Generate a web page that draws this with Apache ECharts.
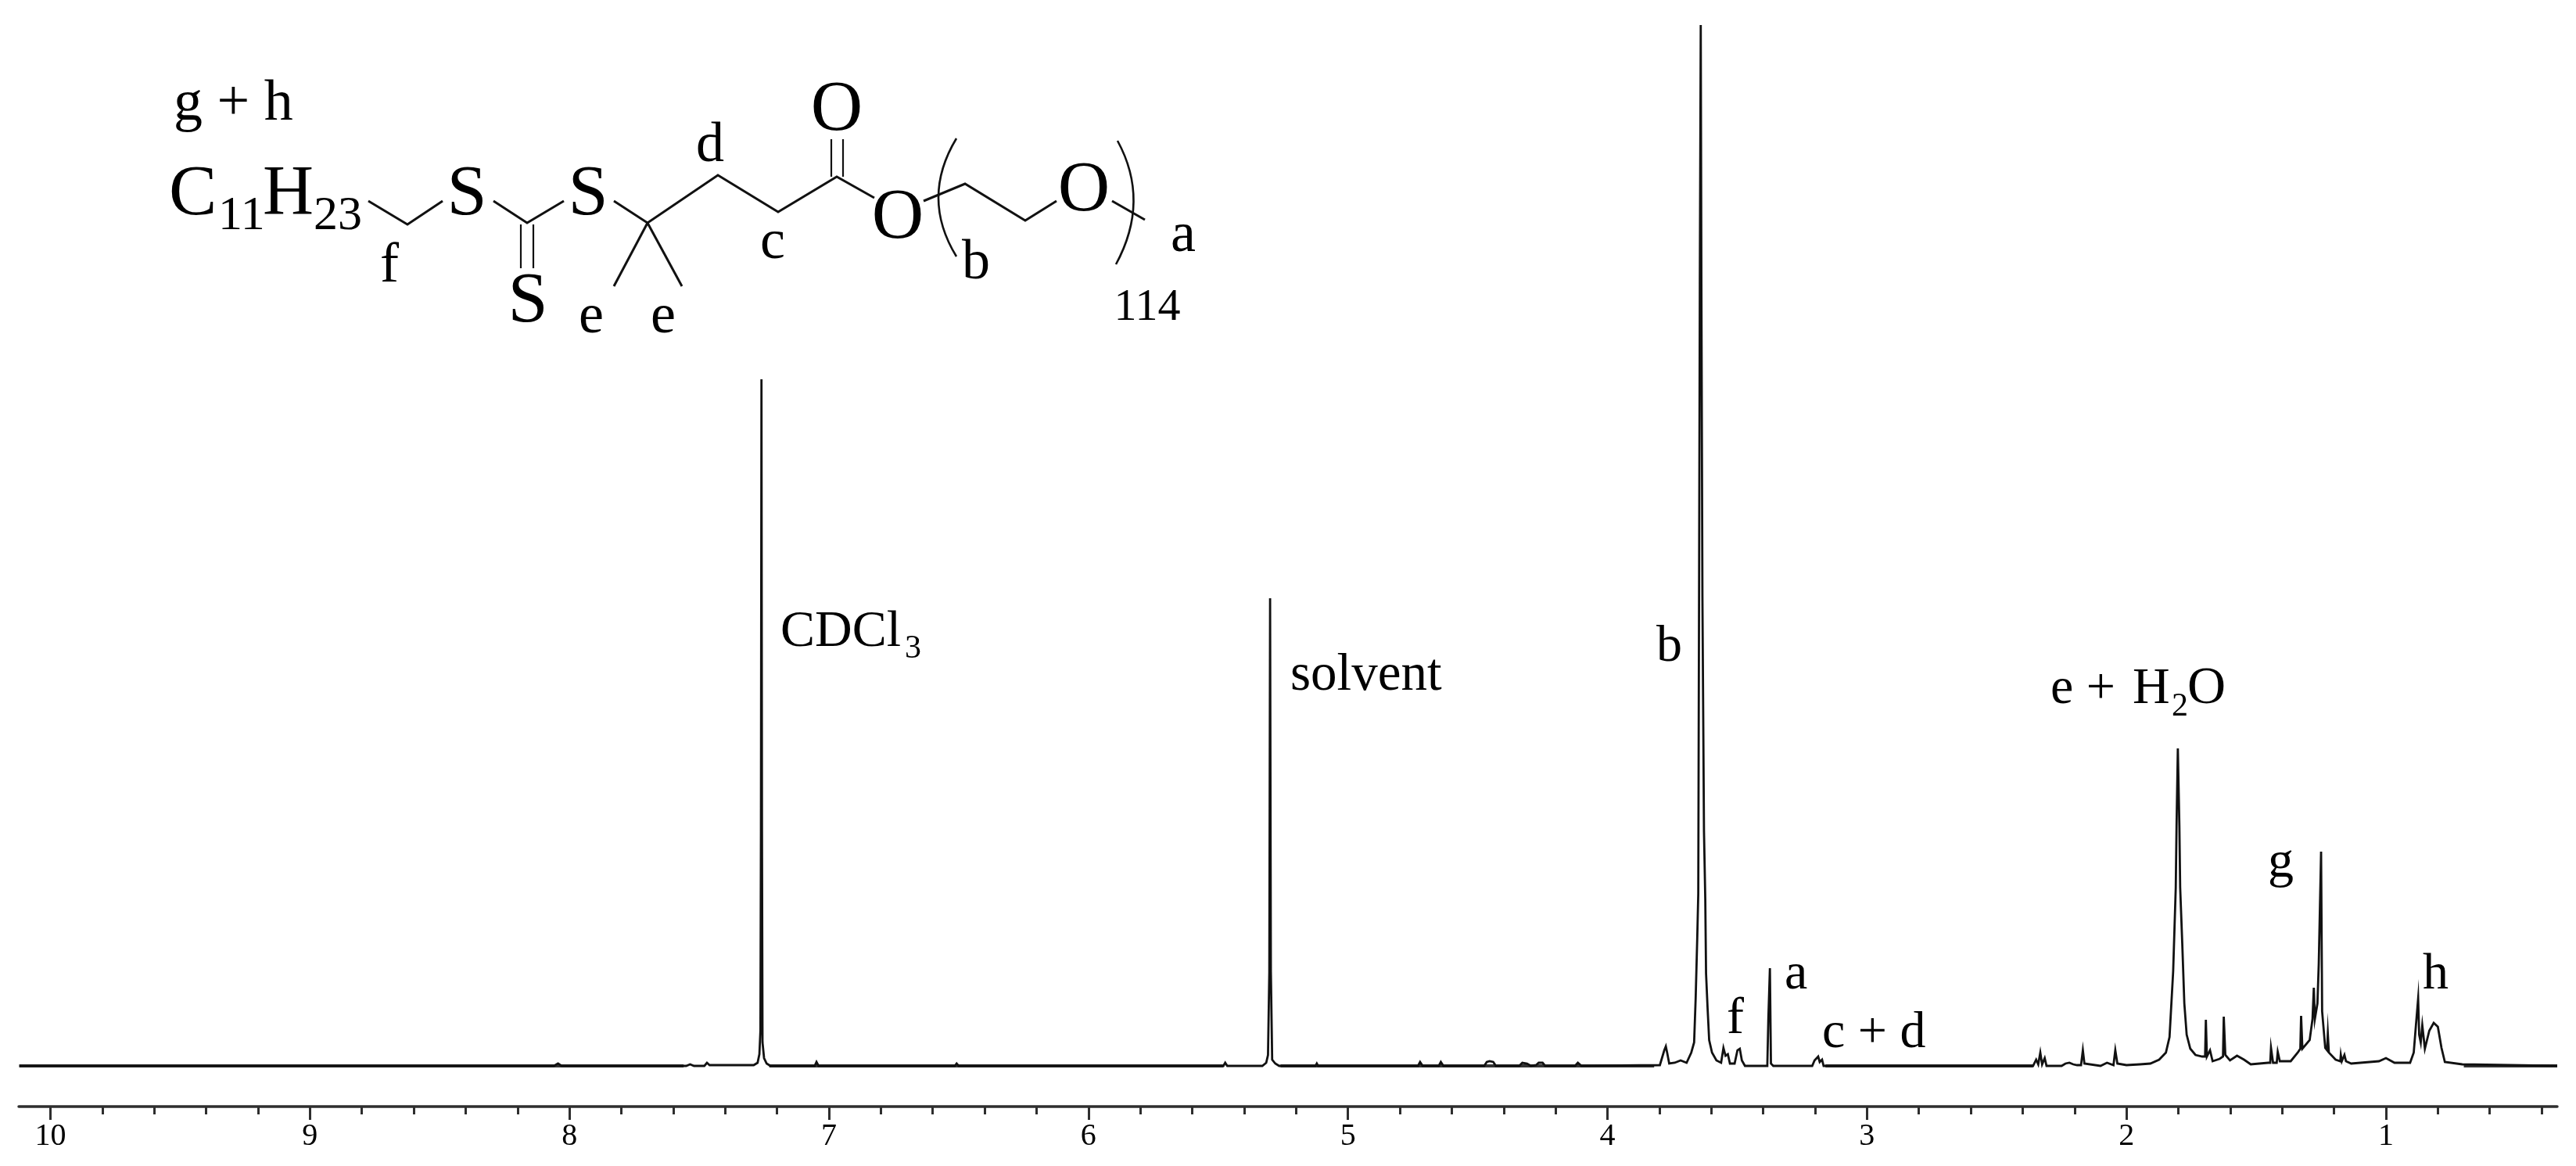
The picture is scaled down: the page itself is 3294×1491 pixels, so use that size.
<!DOCTYPE html>
<html lang="en">
<head>
    <meta charset="UTF-8">
    <title>1H NMR spectrum</title>
    <script src="https://cdn.jsdelivr.net/npm/echarts@6/dist/echarts.min.js"></script>
    <style>
        html, body { margin: 0; padding: 0; background: #fff; }
        #chart { width: 3294px; height: 1491px; }
    </style>
</head>
<body>
<div id="chart"></div>
<script>
    // chemical shift (ppm) from left to right
    const shifts = [
        10.12, 8.06, 8.044, 8.03, 7.55, 7.535, 7.52, 7.48, 7.47, 7.46, 7.36, 7.354, 7.34, 7.29,
        7.275, 7.268, 7.264, 7.262, 7.26, 7.258, 7.256, 7.25, 7.24, 7.225, 7.055, 7.048, 7.04,
        6.515, 6.508, 6.5, 5.48, 5.473, 5.465, 5.33, 5.315, 5.308, 5.303, 5.3, 5.297, 5.292, 5.28, 5.265,
        5.125, 5.12, 5.115, 4.73, 4.722, 4.712, 4.65, 4.642, 4.632, 4.475, 4.465, 4.454, 4.44, 4.43,
        4.34, 4.328, 4.31, 4.295, 4.275, 4.265, 4.25, 4.24, 4.125, 4.114, 4.1,
        3.798, 3.781, 3.775, 3.77, 3.762, 3.741, 3.718, 3.695, 3.677, 3.666, 3.66, 3.654,
        3.65, 3.647, 3.644, 3.6405, 3.638, 3.634, 3.628, 3.623, 3.62, 3.614, 3.608, 3.597, 3.58, 3.562,
        3.553, 3.545, 3.536, 3.528, 3.51, 3.499, 3.49, 3.482, 3.47, 3.384, 3.38, 3.374, 3.37, 3.361,
        3.211, 3.202, 3.197, 3.188, 3.182, 3.173, 3.167,
        2.36, 2.348, 2.34, 2.332, 2.325, 2.315, 2.308, 2.25, 2.235, 2.22, 2.205, 2.19, 2.175, 2.168, 2.162,
        2.1, 2.075, 2.05, 2.043, 2.035, 2.0, 1.948, 1.908, 1.874, 1.848, 1.834, 1.82, 1.81, 1.807,
        1.802, 1.796, 1.793, 1.785, 1.777, 1.768, 1.754, 1.734, 1.708, 1.697, 1.694, 1.69, 1.678, 1.668,
        1.641, 1.628, 1.625, 1.619, 1.601, 1.574, 1.547, 1.521, 1.454, 1.446, 1.443, 1.435, 1.421, 1.417, 1.409,
        1.367, 1.34, 1.33, 1.327, 1.322, 1.294, 1.283, 1.278, 1.274, 1.264, 1.259, 1.25, 1.246, 1.234,
        1.227, 1.224, 1.22, 1.194, 1.176, 1.174, 1.17, 1.16, 1.154, 1.134, 1.027, 1.0, 0.967, 0.907,
        0.893, 0.885, 0.882, 0.876, 0.872, 0.866, 0.86, 0.85, 0.833, 0.816, 0.8, 0.786, 0.773, 0.706, 0.34
    ];
    // signal height above the baseline, same order as shifts
    const intensities = [
        0, 0, 3, 0, 0, 2, 0, 0, 4, 1, 1, 3, 1, 1,
        4, 15, 45, 300, 878, 300, 30, 10, 3, 0, 0, 5, 0,
        0, 3, 0, 0, 4, 0, 0, 4, 14, 120, 598, 120, 8, 3, 0,
        0, 3, 0, 0, 5, 0, 0, 5, 0, 0, 5, 6, 5, 0,
        0, 4, 3, 0, 1, 4, 4, 0, 0, 4, 0,
        1, 20, 25, 17, 3, 4, 7, 4, 17, 30, 87, 163,
        220, 600, 1000, 1331, 1000, 600, 300, 213, 118, 73, 33, 17, 7, 4,
        23, 13, 15, 3, 3, 20, 22, 7, 0, 0, 60, 125, 3, 0,
        0, 7, 5, 12, 5, 8, 0,
        0, 8, 2, 17, 2, 10, 0, 0, 3, 4, 2, 1, 1, 20, 3,
        0, 4, 1, 20, 3, 1, 2, 3, 8, 17, 37, 121, 228, 306,
        406, 306, 228, 157, 80, 40, 22, 14, 12, 12, 59, 12, 20, 6,
        9, 12, 63, 14, 7, 13, 8, 2, 4, 4, 23, 4, 4, 18, 6,
        6, 17, 22, 64, 22, 33, 60, 100, 60, 80, 130, 274, 70, 23,
        20, 41, 17, 8, 6, 14, 6, 14, 6, 3, 6, 10, 4, 4,
        17, 50, 50, 86, 40, 30, 52, 22, 45, 55, 50, 23, 5, 2, 0
    ];
    // stretches of flat baseline where the trace looks thick with noise (start, end in ppm)
    const noiseFrom = [10.12, 7.23, 5.26, 3.16, 0.7];
    const noiseTo = [7.56, 5.48, 3.82, 2.36, 0.34];

    const majorTicks = [10, 9, 8, 7, 6, 5, 4, 3, 2, 1];
    const minorTicks = [
        9.8, 9.6, 9.4, 9.2, 8.8, 8.6, 8.4, 8.2, 7.8, 7.6, 7.4, 7.2, 6.8, 6.6, 6.4, 6.2, 5.8, 5.6, 5.4, 5.2,
        4.8, 4.6, 4.4, 4.2, 3.8, 3.6, 3.4, 3.2, 2.8, 2.6, 2.4, 2.2, 1.8, 1.6, 1.4, 1.2, 0.8, 0.6, 0.4
    ];
    const shiftMin = 0.34;
    const shiftMax = 10.122;

    const serif = '"Liberation Serif", "Times New Roman", serif';

    /**
     * Text placed by its baseline
     */
    function label(text, x, baseline, size, align) {
        return {
            type: 'text',
            silent: true,
            style: {
                text: text,
                x: x,
                y: baseline + size * 0.216,
                fill: '#000',
                font: size + 'px ' + serif,
                textAlign: align || 'left',
                textVerticalAlign: 'bottom'
            }
        };
    }

    function bond(points, width) {
        return {
            type: 'polyline',
            silent: true,
            shape: {points: points},
            style: {stroke: '#111', fill: null, lineWidth: width || 3}
        };
    }

    function bracket(x1, y1, cx, cy, x2, y2) {
        return {
            type: 'bezierCurve',
            silent: true,
            shape: {x1: x1, y1: y1, cpx1: cx, cpy1: cy, x2: x2, y2: y2},
            style: {stroke: '#111', fill: null, lineWidth: 2.6}
        };
    }

    const structure = [
        // skeleton
        bond([[471, 257], [521, 287], [566, 257]]),
        bond([[631, 257], [674, 285], [721, 257]]),
        bond([[666, 287], [666, 343]], 2.2),
        bond([[682, 287], [682, 343]], 2.2),
        bond([[785, 257], [828, 285], [918, 224], [995, 271], [1070, 226], [1118, 253]]),
        bond([[828, 285], [785, 366]]),
        bond([[828, 285], [872, 366]]),
        bond([[1063, 226], [1063, 178]], 2.2),
        bond([[1078, 226], [1078, 178]], 2.2),
        bond([[1181, 257], [1234, 235], [1311, 282], [1351, 257]]),
        bond([[1422, 257], [1464, 281]]),
        bracket(1223, 177, 1177, 253, 1223, 328),
        bracket(1429, 180, 1471, 257, 1427, 338),
        // atoms
        label('C', 216, 276, 92),
        label('11', 279, 294, 62),
        label('H', 336, 276, 90),
        label('23', 401, 294, 62),
        label('S', 597, 276, 92, 'center'),
        label('S', 752, 276, 92, 'center'),
        label('S', 675, 413, 92, 'center'),
        label('O', 1070, 168, 92, 'center'),
        label('O', 1148, 306, 92, 'center'),
        label('O', 1386, 271, 92, 'center'),
        label('114', 1467, 410, 58, 'center'),
        // proton letters on the structure
        label('g + h', 222, 155, 74),
        label('d', 908, 208, 72, 'center'),
        label('c', 988, 332, 72, 'center'),
        label('f', 498, 362, 72, 'center'),
        label('e', 756, 427, 72, 'center'),
        label('e', 848, 427, 72, 'center'),
        label('b', 1248, 358, 72, 'center'),
        label('a', 1513, 323, 72, 'center')
    ];

    const peakLabels = [
        label('CDCl', 998, 827, 66),
        label('3', 1157, 842, 42),
        label('solvent', 1650, 883, 67),
        label('b', 2118, 846, 66),
        label('e +', 2622, 900, 66),
        label('H', 2727, 900, 66),
        label('2', 2777, 916, 42),
        label('O', 2797, 900, 68),
        label('g', 2900, 1122, 66),
        label('h', 3098, 1265, 66),
        label('a', 2282, 1265, 66),
        label('f', 2208, 1322, 66),
        label('c + d', 2330, 1340, 66)
    ];

    const chart = echarts.init(document.getElementById('chart'), null, {renderer: 'canvas'});

    // null breaks the line between the noisy stretches
    const noiseData = [];
    noiseFrom.forEach((from, i) => {
        noiseData.push([from, 0], [noiseTo[i], 0], [noiseTo[i], null]);
    });

    chart.setOption({
        animation: false,
        backgroundColor: '#fff',
        grid: {left: 24, right: 24, top: 32, bottom: 76},
        xAxis: [
            {
                type: 'value',
                inverse: true,
                min: shiftMin,
                max: shiftMax,
                position: 'bottom',
                offset: 0,
                splitLine: {show: false},
                axisLine: {show: true, onZero: false, lineStyle: {color: '#2e2e2e', width: 3.5}},
                axisTick: {show: true, customValues: majorTicks, length: 17, lineStyle: {color: '#2e2e2e', width: 3}},
                axisLabel: {
                    show: true,
                    customValues: majorTicks,
                    margin: 18,
                    color: '#000',
                    fontFamily: serif,
                    fontSize: 40
                }
            },
            {
                type: 'value',
                inverse: true,
                min: shiftMin,
                max: shiftMax,
                position: 'bottom',
                offset: 0,
                splitLine: {show: false},
                axisLine: {show: false, onZero: false},
                axisTick: {show: true, customValues: minorTicks, length: 10, lineStyle: {color: '#2e2e2e', width: 3}},
                axisLabel: {show: false}
            }
        ],
        yAxis: {
            type: 'value',
            min: -52,
            max: 1331,
            show: false,
            splitLine: {show: false}
        },
        graphic: structure.concat(peakLabels),
        series: [
            {
                type: 'line',
                name: 'noise floor',
                showSymbol: false,
                connectNulls: false,
                lineStyle: {color: '#333', width: 4},
                data: noiseData
            },
            {
                type: 'line',
                name: '1H NMR',
                showSymbol: false,
                sampling: null,
                clip: false,
                lineStyle: {color: '#111', width: 2.8, join: 'miter', miterLimit: 20},
                data: shifts.map((s, i) => [s, intensities[i]])
            }
        ]
    });
</script>
</body>
</html>
